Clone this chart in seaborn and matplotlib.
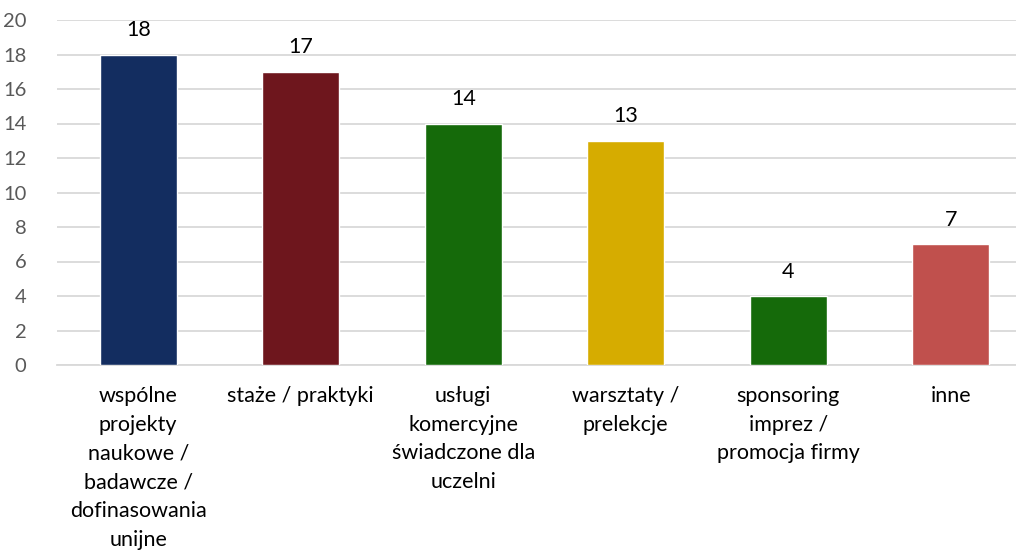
import seaborn as sns
import matplotlib.pyplot as plt
import pandas as pd

categories = [
    "wspólne\nprojekty\nnaukowe /\nbadawcze /\ndofinasowania\nunijne",
    "staże / praktyki",
    "usługi\nkomercyjne\nświadczone dla\nuczelni",
    "warsztaty /\nprelekcje",
    "sponsoring\nimprez /\npromocja firmy",
    "inne",
]
values = [18, 17, 14, 13, 4, 7]
colors = ["#132D60", "#6E161D", "#156A0A", "#D6AC00", "#156A0A", "#C0504D"]

df = pd.DataFrame({"cat": categories, "val": values})

sns.set_style("white")
plt.rcParams['font.family'] = ['Lato', 'DejaVu Sans']

fig = plt.figure(figsize=(10.16, 5.53), dpi=100)
# axes run slightly past the right edge like the original crop
ax = fig.add_axes([57 / 1016, 1 - 365 / 553, 975 / 1016, 345 / 553])

sns.barplot(data=df, x="cat", y="val", hue="cat", palette=colors, legend=False,
            saturation=1, width=0.475, edgecolor="white", linewidth=1, ax=ax, zorder=3)

ax.set_ylim(0, 20)
ax.set_xlim(-0.5, 5.5)
ax.set_yticks(range(0, 21, 2))
ax.grid(axis="y", color="#D9D9D9", linewidth=1.3, zorder=0)
ax.set_axisbelow(True)
for s in ["top", "right", "left"]:
    ax.spines[s].set_visible(False)
ax.spines["bottom"].set_color("#D9D9D9")
ax.spines["bottom"].set_linewidth(1.3)

ax.set_xticks([i - 0.5 for i in range(7)], minor=True)
ax.tick_params(axis="x", which="minor", length=5, color="#D9D9D9", width=1.3, direction="out")
ax.tick_params(axis="x", which="major", length=0, pad=15, labelsize=15.5, labelcolor="black")
ax.tick_params(axis="y", length=0, pad=22, labelsize=14.5, labelcolor="#595959")
for lab in ax.get_xticklabels():
    lab.set_linespacing(1.55)
    lab.set_verticalalignment("top")

for i, v in enumerate(values):
    ax.annotate(str(v), (i, v), xytext=(0, 17.5), textcoords="offset points",
                ha="center", va="center", fontsize=15.5, color="black")

ax.set_xlabel("")
ax.set_ylabel("")

fig.savefig("out.png", dpi=100)
